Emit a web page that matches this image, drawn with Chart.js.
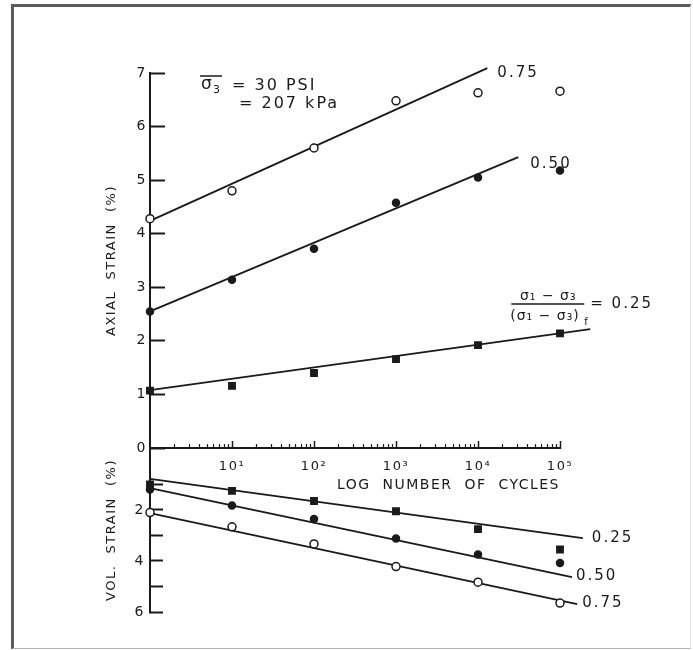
<!DOCTYPE html>
<html>
<head>
<meta charset="utf-8">
<title>Axial and volumetric strain vs log number of cycles</title>
<script src="https://cdn.jsdelivr.net/npm/chart.js@4.4.1/dist/chart.umd.min.js"></script>
<style>
    body { margin: 0; background: #fff; }
    #wrap { position: relative; width: 693px; height: 650px; }
    #frame {
        position: absolute; left: 11px; top: 4px; width: 680px; height: 645px;
        box-sizing: border-box; pointer-events: none;
        border-top: 3px solid #5a5a5a; border-left: 3px solid #5a5a5a;
        border-bottom: 1px solid #b5b5b5; border-right: 1px solid #e6e6e6;
    }
</style>
</head>
<body>
<div id="wrap">
    <canvas id="chart" width="693" height="650"></canvas>
    <div id="frame"></div>
</div>
<script>
// Strain vs log number of cycles, sigma3 = 30 psi
// Values

const cycles = [1, 10, 100, 1000, 10000, 100000];

// axial strain (%) for each stress ratio
const axial075 = [4.28, 4.80, 5.60, 6.48, 6.63, 6.66];
const axial050 = [2.55, 3.14, 3.72, 4.58, 5.05, 5.18];
const axial025 = [1.07, 1.16, 1.40, 1.66, 1.92, 2.14];

// volumetric strain (%) for each stress ratio
const vol025 = [1.00, 1.25, 1.65, 2.05, 2.75, 3.55];
const vol050 = [1.20, 1.82, 2.35, 3.12, 3.75, 4.08];
const vol075 = [2.10, 2.66, 3.33, 4.22, 4.83, 5.65];

// hand drawn trend lines, [cycles, strain] at each end
const fitAxial075 = [[1, 4.24], [13000, 7.09]];
const fitAxial050 = [[1, 2.55], [31000, 5.43]];
const fitAxial025 = [[1, 1.08], [234000, 2.22]];
const fitVol025 = [[1, 0.78], [190000, 3.10]];
const fitVol050 = [[1, 1.14], [140000, 4.63]];
const fitVol075 = [[1, 2.12], [162000, 5.69]];

// ticks
const cycleTicks = [10, 100, 1000, 10000, 100000];
const cycleTickLabels = ['10¹', '10²', '10³', '10⁴', '10⁵'];
const axialTicks = [0, 1, 2, 3, 4, 5, 6, 7];
const volTicks = [1, 2, 3, 4, 5, 6];
const volTickLabels = ['', '2', '', '4', '', '6'];

const INK = '#1a1a1a';
const FONT = '"DejaVu Sans", sans-serif';

Chart.defaults.font.family = FONT;
Chart.defaults.color = INK;

function toPoints(values) {
    return cycles.map((c, i) => ({ x: c, y: values[i] }));
}

function toLine(fit) {
    return fit.map(p => ({ x: p[0], y: p[1] }));
}

function pointSet(values, axis, style) {
    const base = {
        data: toPoints(values),
        yAxisID: axis,
        showLine: false,
        clip: false,
        order: 0,
        borderColor: INK,
        borderWidth: 1.5
    };
    if (style === 'open') {
        return Object.assign(base, { pointStyle: 'circle', pointRadius: 4, backgroundColor: '#fff' });
    }
    if (style === 'dot') {
        return Object.assign(base, { pointStyle: 'circle', pointRadius: 3.5, backgroundColor: INK });
    }
    return Object.assign(base, { pointStyle: 'rect', pointRadius: 4.5, backgroundColor: INK });
}

function lineSet(fit, axis) {
    return {
        data: toLine(fit),
        yAxisID: axis,
        showLine: true,
        clip: false,
        order: 1,
        pointRadius: 0,
        borderColor: INK,
        borderWidth: 1.8
    };
}

// Labels written on the figure
const notesPlugin = {
    id: 'notes',
    afterDraw(chart) {
        const { ctx, scales, chartArea } = chart;
        const px = c => scales.x.getPixelForValue(c);
        const pa = v => scales.y.getPixelForValue(v);
        const pv = v => scales.yVol.getPixelForValue(v);

        ctx.save();
        ctx.fillStyle = INK;
        ctx.strokeStyle = INK;
        ctx.lineWidth = 1.5;
        ctx.textBaseline = 'middle';
        ctx.textAlign = 'left';
        if ('letterSpacing' in ctx) ctx.letterSpacing = '2px';

        // sigma3 note
        const nx = chartArea.left;
        const ny = chartArea.top;
        ctx.font = '17px ' + FONT;
        ctx.fillText('σ', nx + 51, ny + 12);
        ctx.font = '11px ' + FONT;
        ctx.fillText('3', nx + 63, ny + 17);
        ctx.beginPath();
        ctx.moveTo(nx + 50, ny + 3);
        ctx.lineTo(nx + 72, ny + 3);
        ctx.stroke();
        ctx.font = '16px ' + FONT;
        ctx.fillText('= 30 PSI', nx + 82, ny + 13);
        ctx.fillText('= 207 kPa', nx + 89, ny + 31);

        // line end labels
        ctx.font = '15px ' + FONT;
        let e = fitAxial075[1];
        ctx.fillText('0.75', px(e[0]) + 10, pa(e[1]) + 5);
        e = fitAxial050[1];
        ctx.fillText('0.50', px(e[0]) + 12, pa(e[1]) + 7);
        e = fitVol025[1];
        ctx.fillText('0.25', px(e[0]) + 9, pv(e[1]));
        e = fitVol050[1];
        ctx.fillText('0.50', px(e[0]) + 4, pv(e[1]) - 1);
        e = fitVol075[1];
        ctx.fillText('0.75', px(e[0]) + 5, pv(e[1]) - 1);

        // stress ratio fraction
        e = fitAxial025[1];
        const fx = px(e[0]);
        const fy = pa(e[1]);
        ctx.font = '15px ' + FONT;
        ctx.fillText('= 0.25', fx, fy - 25);
        if ('letterSpacing' in ctx) ctx.letterSpacing = '1px';
        ctx.font = '14px ' + FONT;
        ctx.textAlign = 'center';
        ctx.fillText('σ₁ − σ₃', fx - 42, fy - 33);
        ctx.textAlign = 'left';
        ctx.fillText('(σ₁ − σ₃)', fx - 80, fy - 13);
        ctx.font = '10px ' + FONT;
        ctx.fillText('f', fx - 6, fy - 7);
        ctx.beginPath();
        ctx.moveTo(fx - 79, fy - 25);
        ctx.lineTo(fx - 6, fy - 25);
        ctx.stroke();
        ctx.restore();
    }
};

// wider lettering for the axis text
const spacingPlugin = {
    id: 'spacing',
    beforeDraw(chart) {
        if ('letterSpacing' in chart.ctx) chart.ctx.letterSpacing = '1.5px';
    },
    afterDatasetsDraw(chart) {
        if ('letterSpacing' in chart.ctx) chart.ctx.letterSpacing = '0px';
    }
};

const minorCycleTicks = [];
for (let d = 1; d < 100000; d *= 10) {
    for (let m = 2; m <= 9; m++) minorCycleTicks.push(d * m);
}

new Chart(document.getElementById('chart'), {
    type: 'scatter',
    data: {
        datasets: [
            pointSet(axial075, 'y', 'open'),
            pointSet(axial050, 'y', 'dot'),
            pointSet(axial025, 'y', 'square'),
            pointSet(vol025, 'yVol', 'square'),
            pointSet(vol050, 'yVol', 'dot'),
            pointSet(vol075, 'yVol', 'open'),
            lineSet(fitAxial075, 'y'),
            lineSet(fitAxial050, 'y'),
            lineSet(fitAxial025, 'y'),
            lineSet(fitVol025, 'yVol'),
            lineSet(fitVol050, 'yVol'),
            lineSet(fitVol075, 'yVol')
        ]
    },
    options: {
        responsive: false,
        animation: false,
        devicePixelRatio: 1,
        layout: { padding: { left: 0, top: 73, right: 133, bottom: 38 } },
        plugins: {
            legend: { display: false },
            tooltip: { enabled: false }
        },
        scales: {
            x: {
                type: 'logarithmic',
                position: { y: 0 },
                min: 1,
                max: 100000,
                afterBuildTicks: scale => { scale.ticks = cycleTicks.map(v => ({ value: v })); },
                afterFit: scale => { scale.height = 46; },
                ticks: {
                    autoSkip: false,
                    maxRotation: 0,
                    padding: 19,
                    font: { size: 13 },
                    callback: (value, index) => cycleTickLabels[index]
                },
                grid: { drawOnChartArea: false, tickLength: -8, tickWidth: 1.5, tickColor: INK },
                border: { color: INK, width: 2 },
                title: {
                    display: true,
                    text: 'LOG  NUMBER  OF  CYCLES',
                    align: 'end',
                    font: { size: 14 },
                    padding: 0
                }
            },
            xMinor: {
                type: 'logarithmic',
                position: { y: 0 },
                min: 1,
                max: 100000,
                afterBuildTicks: scale => { scale.ticks = minorCycleTicks.map(v => ({ value: v })); },
                ticks: { display: false },
                grid: { drawOnChartArea: false, tickLength: -4, tickWidth: 1.2, tickColor: INK },
                border: { display: false }
            },
            yVol: {
                type: 'linear',
                position: 'left',
                stack: 'strain',
                stackWeight: 164,
                weight: 0,
                reverse: true,
                min: -0.43,
                max: 6,
                afterBuildTicks: scale => { scale.ticks = volTicks.map(v => ({ value: v })); },
                afterFit: scale => { scale.width = 150; },
                ticks: {
                    autoSkip: false,
                    padding: 18,
                    font: { size: 14 },
                    callback: value => volTickLabels[volTicks.indexOf(value)]
                },
                grid: { drawOnChartArea: false, tickLength: -13, tickWidth: 2, tickColor: INK },
                border: { color: INK, width: 2 },
                title: {
                    display: true,
                    text: 'VOL.  STRAIN  (%)',
                    font: { size: 13 },
                    padding: { top: 104, bottom: 0 }
                }
            },
            y: {
                type: 'linear',
                position: 'left',
                stack: 'strain',
                stackWeight: 375,
                weight: 1,
                min: 0,
                max: 7,
                afterBuildTicks: scale => { scale.ticks = axialTicks.map(v => ({ value: v })); },
                afterFit: scale => { scale.width = 150; },
                ticks: {
                    autoSkip: false,
                    padding: 18,
                    font: { size: 14 }
                },
                grid: { drawOnChartArea: false, tickLength: -15, tickWidth: 2, tickColor: INK },
                border: { color: INK, width: 2 },
                title: {
                    display: true,
                    text: 'AXIAL  STRAIN  (%)',
                    font: { size: 13 },
                    padding: { top: 104, bottom: 0 }
                }
            }
        }
    },
    plugins: [spacingPlugin, notesPlugin]
});
</script>
</body>
</html>
